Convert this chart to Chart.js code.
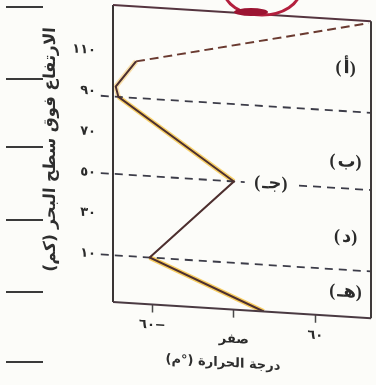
<!DOCTYPE html>
<html><head><meta charset="utf-8">
<script src="https://cdn.jsdelivr.net/npm/chart.js@4.4.1/dist/chart.umd.min.js"></script>
<style>html,body{margin:0;padding:0;background:#fcfcf9;}canvas{display:block;}</style>
</head><body>
<canvas id="c" width="376" height="385"></canvas>
<script>
// ---- data ----
const altitudeTicks = [10, 30, 50, 70, 90, 110];
const altitudeTickLabels = ['١٠', '٣٠', '٥٠', '٧٠', '٩٠', '١١٠'];
const temperatureTicks = [-60, 0, 60];
const temperatureTickLabels = ['\u200F\u2212٦٠', 'صفر', '٦٠'];
const profileTemps = [22, -62, 0, -85, -87, -72, 99];
const profileAlts = [-13, 10, 50, 88, 93, 106, 132];
const boundaryAlts = [10, 50, 88];
const boundaryRanges = [[[-98, 101]], [[-98, 8], [48, 101]], [[-98, 101]]];
const layerLabels = ['(أ)', '(ب)', '(جـ)', '(د)', '(هـ)'];
const layerLabelTemps = [83, 83, 28, 83, 83];
const layerLabelAlts = [109, 63, 50, 26, -1];
const xTitle = 'درجة الحرارة (°م)';
const xTitleTemp = -8;
const yTitle = 'الارتفاع فوق سطح البحر (كم)';
const tempRange = [-89, 101];
const altRange = [-13, 133];

Chart.defaults.font.family = "'DejaVu Sans', sans-serif";
const SHEAR = 0.063;

const profilePoints = profileTemps.map((t, i) => ({x: t, y: profileAlts[i]}));
const datasets = [];
datasets.push({
  label: 'highlight', data: profilePoints, borderWidth: 5, pointRadius: 0, order: 3,
  borderColor: 'rgba(0,0,0,0)',
  segment: { borderColor: c => ['rgba(246,196,70,0.85)', 'rgba(0,0,0,0)', 'rgba(246,200,80,0.85)', 'rgba(246,205,120,0.6)', 'rgba(246,205,120,0.6)', 'rgba(0,0,0,0)'][c.p0DataIndex] }
});
datasets.push({
  label: 'profile', data: profilePoints, borderWidth: 2, pointRadius: 0, order: 1,
  borderColor: '#4d2f2f',
  segment: {
    borderDash: c => c.p0DataIndex >= 5 ? [9, 5] : undefined,
    borderColor: c => c.p0DataIndex >= 5 ? '#6a3a30' : undefined
  }
});
boundaryAlts.forEach((a, i) => {
  boundaryRanges[i].forEach(r => {
    datasets.push({
      label: 'boundary ' + a, data: [{x: r[0], y: a}, {x: r[1], y: a}],
      borderColor: '#3c3c48', borderWidth: 1.8, borderDash: [8, 6], pointRadius: 0, clip: false, order: 2
    });
  });
});

const decor = {
  id: 'decor',
  beforeDraw(chart) {
    const ctx = chart.ctx;
    ctx.save();
    ctx.fillStyle = '#fcfcf9';
    ctx.fillRect(0, 0, chart.width, chart.height);
    // page margin rules
    ctx.strokeStyle = '#3a3a3a'; ctx.lineWidth = 2;
    [7, 79, 147, 220, 292, 362].forEach(y => { ctx.beginPath(); ctx.moveTo(6, y); ctx.lineTo(43, y); ctx.stroke(); });
    ctx.restore();
    // shear like the scanned page
    const left = chart.chartArea.left;
    ctx.save();
    ctx.transform(1, SHEAR, 0, 1, 0, -SHEAR * left);
  },
  afterDatasetsDraw(chart) {
    const ctx = chart.ctx, a = chart.chartArea;
    const xs = chart.scales.x, ys = chart.scales.y;
    ctx.save();
    ctx.lineWidth = 2;
    ctx.strokeStyle = '#3a3535';
    ctx.beginPath(); ctx.moveTo(a.left, a.top); ctx.lineTo(a.left, a.bottom); ctx.stroke();
    ctx.strokeStyle = '#4a3a42';
    ctx.beginPath(); ctx.moveTo(a.left, a.bottom); ctx.lineTo(a.right, a.bottom); ctx.stroke();
    ctx.strokeStyle = '#55343f';
    ctx.beginPath(); ctx.moveTo(a.left, a.top); ctx.lineTo(a.right, a.top); ctx.stroke();
    ctx.strokeStyle = '#3f3a3a';
    ctx.beginPath(); ctx.moveTo(a.right, a.top); ctx.lineTo(a.right, a.bottom); ctx.stroke();
    // layer labels
    ctx.fillStyle = '#2b2b2b';
    ctx.font = "bold 18px 'Liberation Serif', 'DejaVu Sans', serif";
    ctx.letterSpacing = '2px';
    ctx.textAlign = 'center'; ctx.textBaseline = 'middle';
    layerLabels.forEach((t, i) => ctx.fillText(t, xs.getPixelForValue(layerLabelTemps[i]), ys.getPixelForValue(layerLabelAlts[i])));
    ctx.letterSpacing = '0px';
    // x axis title
    ctx.direction = 'rtl';
    ctx.font = "bold 13px 'DejaVu Sans', sans-serif";
    ctx.fillStyle = '#2e2e2e';
    ctx.fillText(xTitle, xs.getPixelForValue(xTitleTemp), a.bottom + 54);
    ctx.restore();
  },
  afterDraw(chart) {
    const ctx = chart.ctx;
    ctx.restore();
    // partial red circle of the neighbouring figure
    ctx.save();
    ctx.strokeStyle = '#b3203e'; ctx.lineWidth = 3;
    ctx.beginPath(); ctx.ellipse(262, -10, 38, 25, 0, 0, Math.PI * 2); ctx.stroke();
    ctx.fillStyle = '#9c1432';
    ctx.beginPath(); ctx.ellipse(251, 12, 17, 4, 0, 0, Math.PI * 2); ctx.fill();
    ctx.restore();
  }
};

new Chart(document.getElementById('c'), {
  type: 'line',
  data: { datasets },
  plugins: [decor],
  options: {
    responsive: false, animation: false,
    layout: { padding: { top: 5, right: 5, left: 0, bottom: 0 } },
    plugins: { legend: { display: false }, tooltip: { enabled: false } },
    scales: {
      x: {
        type: 'linear', min: tempRange[0], max: tempRange[1],
        afterBuildTicks: s => { s.ticks = temperatureTicks.map(v => ({value: v})); },
        afterFit: s => { s.height = 83; s.paddingLeft = 0; s.paddingRight = 0; },
        border: { display: false },
        grid: { drawOnChartArea: false, drawTicks: true, tickLength: 8, tickColor: '#4a4a4a', tickWidth: 1.5 },
        ticks: {
          autoSkip: false, maxRotation: 0, padding: 5, color: '#2a2a2a',
          font: c => (c.tick && c.tick.value === 0) ? {size: 13, weight: 'bold', lineHeight: 2.6} : {size: 13, weight: 'bold'},
          callback: (v, i) => temperatureTickLabels[i]
        }
      },
      y: {
        type: 'linear', min: altRange[0], max: altRange[1],
        afterBuildTicks: s => { s.ticks = altitudeTicks.map(v => ({value: v})); },
        afterFit: s => { s.width = 113; s.paddingTop = 0; s.paddingBottom = 0; },
        border: { display: false },
        grid: { display: false },
        ticks: { padding: 9, color: '#2a2a2a', font: {size: 13, weight: 'bold'}, callback: (v, i) => altitudeTickLabels[i] },
        title: { display: true, text: yTitle, color: '#2e2e2e', font: {size: 16.5, weight: 'bold'}, padding: {top: 41, bottom: 0} }
      }
    }
  }
});
</script>
</body></html>
